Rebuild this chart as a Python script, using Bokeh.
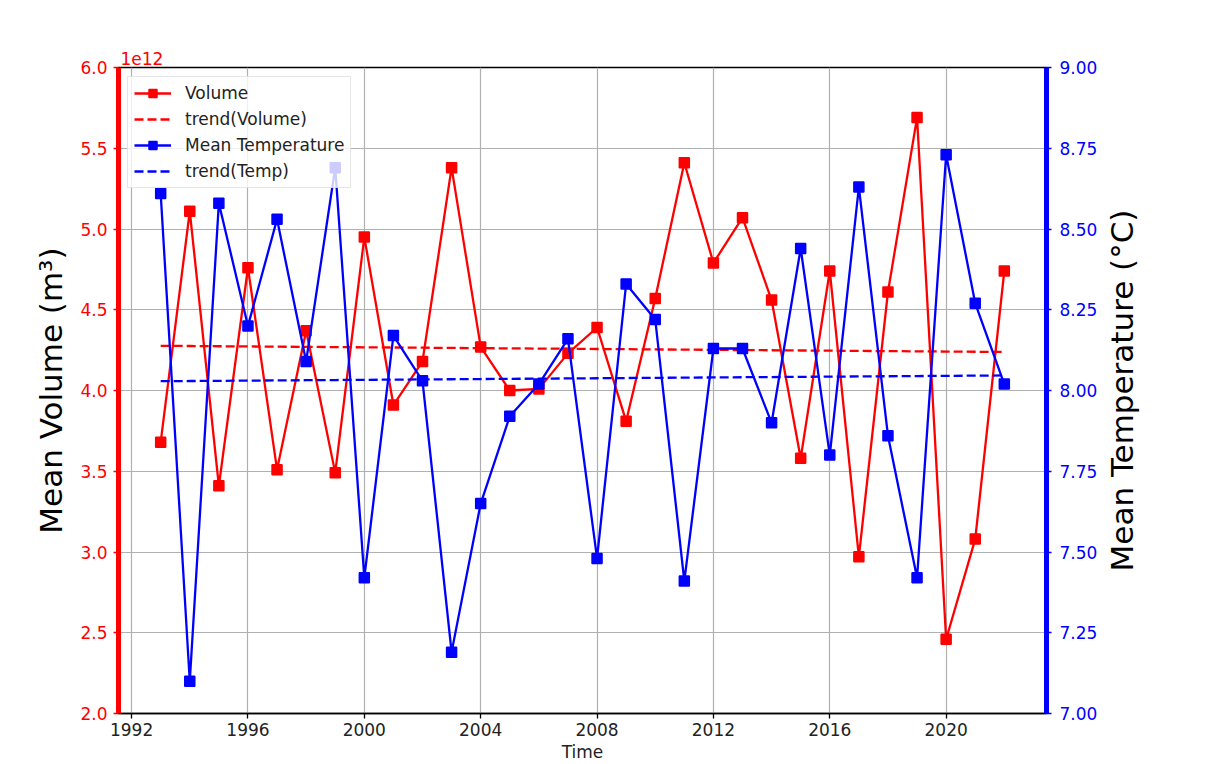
import numpy as np
from bokeh.plotting import figure
from bokeh.layouts import row
from bokeh.models import Range1d, LinearAxis, FixedTicker, PrintfTickFormatter, Legend, LegendItem, Title
from bokeh.embed import file_html
from bokeh.resources import INLINE

years = list(range(1993, 2023))
volume = [3.68e12, 5.11e12, 3.41e12, 4.76e12, 3.51e12, 4.37e12, 3.49e12, 4.95e12, 3.91e12, 4.18e12,
          5.38e12, 4.27e12, 4.00e12, 4.01e12, 4.23e12, 4.39e12, 3.81e12, 4.57e12, 5.41e12, 4.79e12,
          5.07e12, 4.56e12, 3.58e12, 4.74e12, 2.97e12, 4.61e12, 5.69e12, 2.46e12, 3.08e12, 4.74e12]
temperature = [8.61, 7.10, 8.58, 8.20, 8.53, 8.09, 8.69, 7.42, 8.17, 8.03,
               7.19, 7.65, 7.92, 8.02, 8.16, 7.48, 8.33, 8.22, 7.41, 8.13,
               8.13, 7.90, 8.44, 7.80, 8.63, 7.86, 7.42, 8.73, 8.27, 8.02]
x_ticks = [1992, 1996, 2000, 2004, 2008, 2012, 2016, 2020]
vol_ticks = [2.0, 2.5, 3.0, 3.5, 4.0, 4.5, 5.0, 5.5, 6.0]
temp_ticks = [7.00, 7.25, 7.50, 7.75, 8.00, 8.25, 8.50, 8.75, 9.00]

FONT = "DejaVu Sans"
RED = "#ff0000"
BLUE = "#0000ff"

yr = np.array(years, dtype=float)
vol = np.array(volume) / 1e12
temp = np.array(temperature)
vol_trend = np.polyval(np.polyfit(yr, vol, 1), yr)
temp_trend = np.polyval(np.polyfit(yr, temp, 1), yr)

p = figure(width=1100, height=764, output_backend="svg", toolbar_location=None,
           x_range=Range1d(1991.55, 2023.45), y_range=Range1d(2, 6),
           min_border_left=118, min_border_right=52, min_border_top=67, min_border_bottom=51)
p.extra_y_ranges = {"temp": Range1d(7, 9)}
p.background_fill_color = "white"
p.border_fill_color = "white"
p.outline_line_color = "black"
p.outline_line_width = 1.3

p.title = Title(text="1e12", align="left", text_color=RED, text_font=FONT,
                text_font_size="17px", text_font_style="normal", offset=2, standoff=5)

# x axis
xa = p.xaxis[0]
xa.ticker = FixedTicker(ticks=x_ticks)
xa.formatter = PrintfTickFormatter(format="%d")
xa.axis_line_color = "black"
xa.axis_line_width = 1.3
xa.major_tick_line_color = "black"
xa.major_tick_line_width = 1.3
xa.major_tick_out = 5
xa.major_tick_in = 0
xa.minor_tick_line_color = None
xa.major_label_text_font = FONT
xa.major_label_text_font_size = "17px"
xa.major_label_text_color = "#222222"
xa.major_label_standoff = 4
xa.axis_label = "Time"
xa.axis_label_text_font = FONT
xa.axis_label_text_font_size = "17px"
xa.axis_label_text_font_style = "normal"
xa.axis_label_text_color = "#222222"
xa.axis_label_standoff = 3

# left axis
ya = p.yaxis[0]
ya.ticker = FixedTicker(ticks=vol_ticks)
ya.formatter = PrintfTickFormatter(format="%.1f")
ya.axis_line_color = RED
ya.axis_line_width = 5
ya.major_tick_line_color = RED
ya.major_tick_line_width = 1.3
ya.major_tick_out = 5
ya.major_tick_in = 0
ya.minor_tick_line_color = None
ya.major_label_text_font = FONT
ya.major_label_text_font_size = "17px"
ya.major_label_text_color = RED
ya.major_label_standoff = 6
ya.axis_label = "Mean Volume (m³)"
ya.axis_label_text_font = FONT
ya.axis_label_text_font_size = "31px"
ya.axis_label_text_font_style = "normal"
ya.axis_label_text_color = "black"
ya.axis_label_standoff = 8

# right axis (ticks and tick labels)
ra = LinearAxis(y_range_name="temp")
ra.ticker = FixedTicker(ticks=temp_ticks)
ra.formatter = PrintfTickFormatter(format="%.2f")
ra.axis_line_color = BLUE
ra.axis_line_width = 5
ra.major_tick_line_color = BLUE
ra.major_tick_line_width = 1.3
ra.major_tick_out = 5
ra.major_tick_in = 0
ra.minor_tick_line_color = None
ra.major_label_text_font = FONT
ra.major_label_text_font_size = "17px"
ra.major_label_text_color = BLUE
ra.major_label_standoff = 8
p.add_layout(ra, "right")

for g in (p.xgrid[0], p.ygrid[0]):
    g.grid_line_color = "#b0b0b0"
    g.grid_line_width = 1.2

# series
r1 = p.line(yr, vol, line_color=RED, line_width=2.3)
r1m = p.scatter(yr, vol, marker="square", size=10, fill_color=RED, line_color=RED, line_width=1.5)
r2 = p.line(yr, vol_trend, line_color=RED, line_width=2.3, line_dash="9 4")
r3 = p.line(yr, temp, line_color=BLUE, line_width=2.3, y_range_name="temp")
r3m = p.scatter(yr, temp, marker="square", size=10, fill_color=BLUE, line_color=BLUE, line_width=1.5,
                y_range_name="temp")
r4 = p.line(yr, temp_trend, line_color=BLUE, line_width=2.3, line_dash="9 4", y_range_name="temp")

legend = Legend(items=[
    LegendItem(label="Volume", renderers=[r1, r1m]),
    LegendItem(label="trend(Volume)", renderers=[r2]),
    LegendItem(label="Mean Temperature", renderers=[r3, r3m]),
    LegendItem(label="trend(Temp)", renderers=[r4]),
], location="top_left")
legend.margin = 9
legend.padding = 6
legend.spacing = 6
legend.glyph_width = 37
legend.glyph_height = 20
legend.label_height = 20
legend.label_standoff = 14
legend.label_text_font = FONT
legend.label_text_font_size = "17px"
legend.label_text_color = "#222222"
legend.border_line_color = "#cccccc"
legend.border_line_width = 1
legend.background_fill_color = "white"
legend.background_fill_alpha = 0.8
p.add_layout(legend)

# narrow companion figure carrying the right-hand axis title (reads bottom-to-top)
p2 = figure(width=109, height=764, output_backend="svg", toolbar_location=None,
            x_range=Range1d(0, 1), y_range=Range1d(7, 9),
            min_border_left=0, min_border_right=0, min_border_top=67, min_border_bottom=51)
p2.outline_line_color = None
p2.background_fill_color = "white"
p2.border_fill_color = "white"
p2.xgrid.visible = False
p2.ygrid.visible = False
p2.xaxis.visible = False
la = p2.yaxis[0]
la.ticker = FixedTicker(ticks=[])
la.axis_line_color = None
la.major_tick_line_color = None
la.minor_tick_line_color = None
la.major_tick_out = 0
la.major_tick_in = 0
la.major_label_standoff = 0
la.axis_label = "Mean Temperature (°C)"
la.axis_label_text_font = FONT
la.axis_label_text_font_size = "31px"
la.axis_label_text_font_style = "normal"
la.axis_label_text_color = "black"
la.axis_label_standoff = 0

layout = row(p, p2, spacing=0)
open("out.html", "w").write(file_html(layout, INLINE))
